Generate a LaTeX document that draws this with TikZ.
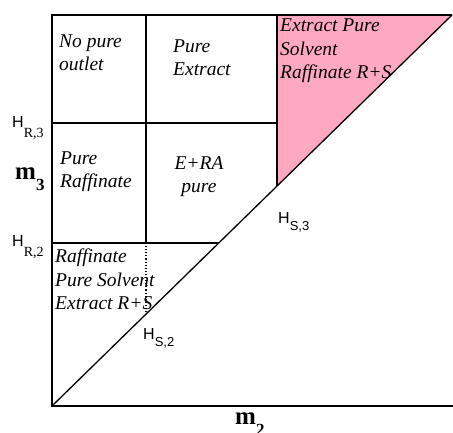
\documentclass[tikz,border=0pt]{standalone}
\usepackage{fontspec}
\setmainfont{Liberation Serif}
\newfontfamily\hfont{Liberation Sans}
\definecolor{zonepink}{HTML}{FFA8C2}

\newcommand{\cellfont}{\fontsize{19.5}{23.5}\selectfont\itshape}
\newcommand{\hlblr}[1]{{\hfont\fontsize{16}{18}\selectfont H}\raisebox{-10pt}{\fontsize{14}{16}\selectfont #1}}
\newcommand{\hlbls}[1]{{\hfont\fontsize{16}{18}\selectfont H}\raisebox{-7pt}{\hfont\fontsize{13}{16}\selectfont #1}}
\newcommand{\mlbl}[1]{{\bfseries\fontsize{25}{26}\selectfont m}\raisebox{-11pt}{\bfseries\fontsize{17}{18}\selectfont #1}}

\begin{document}
\begin{tikzpicture}[x=1pt, y=1pt,
  celltext/.style={inner sep=0pt, anchor=base west, align=left, font=\cellfont},
  lbl/.style={inner sep=0pt, anchor=base west}]
  \useasboundingbox (0,0) rectangle (453,433);

  \coordinate (O) at (52,27);
  \coordinate (T) at (452,418);

  % pure extract region
  \fill[zonepink] (277,418) -- (T) -- (277,246.9) -- cycle;

  % axes and diagonal
  \draw[line width=1.4pt] (T) -- (52,418) -- (O) -- (453,27);
  \draw[line width=1.3pt] (O) -- (T);

  % grid of regions
  \draw[line width=1.4pt] (146,418) -- (146,190);
  \draw[line width=1.4pt] (277,418) -- (277,246.9);
  \draw[line width=1.4pt] (52,310) -- (277,310);
  \draw[line width=1.4pt] (52,190) -- (218.7,190);
  \draw[dotted, line width=1.1pt] (146,190) -- (146,118.9);

  % texts, placed at the baseline of their last line
  \node[celltext] (nopure) at (59,362) {No pure\\outlet};
  \node[celltext] (pureext) at (173,357) {Pure\\Extract};
  \node[celltext] (pureraf) at (60,245) {Pure\\Raffinate};
  \node[celltext, align=center, anchor=base] (era) at (199,240) {E+RA\\pure};
  \node[celltext] (extsolv) at (280,354) {Extract Pure\\Solvent\\Raffinate R+S};
  \node[celltext] (rafsolv) at (55,123) {Raffinate\\Pure Solvent\\Extract R+S};

  \node[lbl] (hr3) at (12,305) {\hlblr{R,3}};
  \node[lbl] (hr2) at (12,186) {\hlblr{R,2}};
  \node[lbl] (hs2) at (143,93) {\hlbls{S,2}};
  \node[lbl] (hs3) at (278,209) {\hlbls{S,3}};
  \node[lbl] (m3) at (15,253) {\mlbl{3}};
  \node[lbl] (m2) at (235,8) {\mlbl{2}};
\end{tikzpicture}
\end{document}
